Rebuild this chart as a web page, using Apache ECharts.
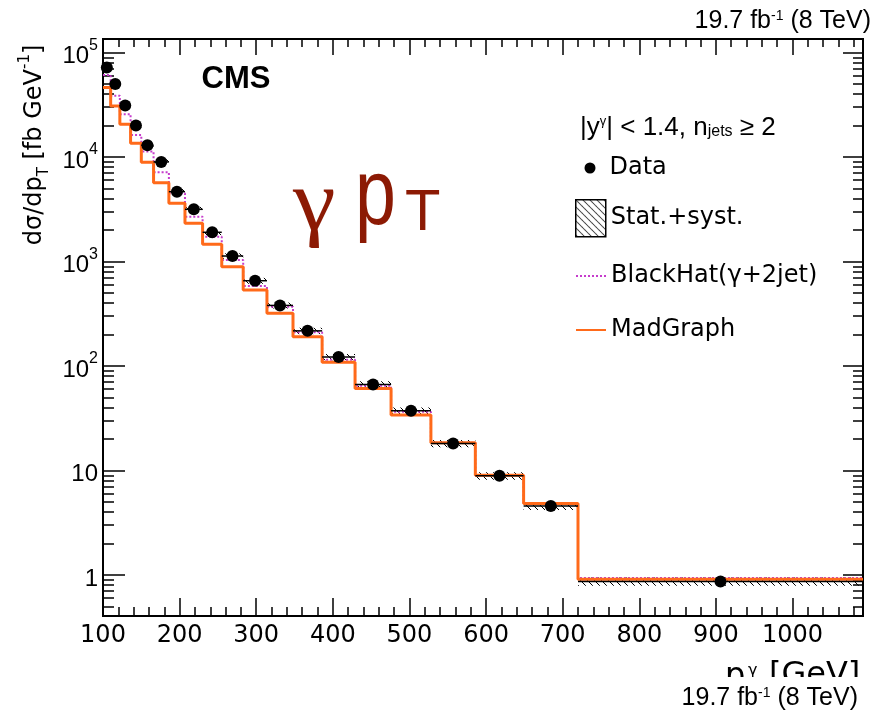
<!DOCTYPE html>
<html><head><meta charset="utf-8">
<script src="https://cdn.jsdelivr.net/npm/echarts@6/dist/echarts.min.js"></script>
<style>html,body{margin:0;padding:0;background:#fff}#c{width:873px;height:715px}</style>
</head><body><div id="c"></div>
<script>
// ---- data ----
const binEdges = [100,110,122,136,150,166,186,207,230,255,283,314,348,386,429,476,528,586,649,720,1092];
const dataValues = [71800,50100,31100,20000,12980,8980,4660,3160,1905,1129,655,380,217,122,66.6,37.2,18.1,8.88,4.58,0.865];
const statSystRel = [0.06,0.06,0.06,0.06,0.06,0.06,0.06,0.06,0.06,0.06,0.065,0.065,0.07,0.07,0.07,0.075,0.08,0.08,0.085,0.09];
const blackHatValues = [61100,38700,25700,16300,11280,7140,4500,2690,1728,1033,582,369,210,114.6,64.6,36.4,18.4,9.0,4.86,0.935];
const madGraphValues = [46200,30800,20600,13560,8910,5690,3610,2320,1462,892,533,319,190.5,108.4,61,33.9,18.4,9.02,4.83,0.91];
const xMin = 100, xMax = 1092, xInterval = 100;
const yMin = 0.4046, yMax = 134900;
const seriesNames = ['Data','Stat.+syst.','BlackHat(γ+2jet)','MadGraph'];

// ---- helpers ----
function stepData(vals){
  const d = vals.map((v,i)=>[binEdges[i], v]);
  d.push([binEdges[binEdges.length-1], vals[vals.length-1]]);
  return d;
}
const centers = dataValues.map((v,i)=>[(binEdges[i]+binEdges[i+1])/2, v]);
const bandData = dataValues.map((v,i)=>[binEdges[i], binEdges[i+1], v*(1-statSystRel[i]), v*(1+statSystRel[i])]);
const xErrData = dataValues.map((v,i)=>[binEdges[i], binEdges[i+1], v]);

const hc = document.createElement('canvas'); hc.width = 7; hc.height = 7;
const g = hc.getContext('2d'); g.strokeStyle = '#000'; g.lineWidth = 1;
g.beginPath(); g.moveTo(-1,-1); g.lineTo(8,8); g.moveTo(-1,6); g.lineTo(1,8); g.moveTo(6,-1); g.lineTo(8,1); g.stroke();
const hatch = {image: hc, repeat: 'repeat'};

const ORANGE = '#ff6a1a', MAGENTA = '#c63ccc', RED = '#8c1a04';
const F_SANS = 'Liberation Sans', F_DV = 'DejaVu Sans';

const chart = echarts.init(document.getElementById('c'));
const legendBase = {orient:'vertical', itemWidth:30, padding:0, itemGap:0, selectedMode:false, left:575,
  textStyle:{fontSize:24, fontFamily:F_DV, color:'#000', lineHeight:28}};

chart.setOption({
  animation:false,
  backgroundColor:'#fff',
  grid:{left:103, right:10, top:39, bottom:99, show:true, borderColor:'#000', borderWidth:2, backgroundColor:'transparent'},
  xAxis:[{
    type:'value', min:xMin, max:xMax, interval:xInterval,
    axisLine:{show:true, lineStyle:{color:'#000', width:2}},
    axisTick:{show:true, inside:true, length:18, lineStyle:{color:'#000', width:1.5}},
    minorTick:{show:true, splitNumber:5, length:9, lineStyle:{color:'#000', width:1.5}},
    splitLine:{show:false},
    axisLabel:{margin:8, fontSize:24, fontFamily:F_DV, color:'#000',
      formatter:v => (Math.abs(v % 100) < 1e-9 ? String(v) : '')}
  },{
    type:'value', position:'top', min:xMin, max:xMax, interval:xInterval,
    axisLine:{show:false},
    axisTick:{show:true, inside:true, length:16, lineStyle:{color:'#000', width:1.5}},
    minorTick:{show:true, splitNumber:5, length:8, lineStyle:{color:'#000', width:1.5}},
    splitLine:{show:false}, axisLabel:{show:false}
  }],
  yAxis:[{
    type:'log', logBase:10, min:yMin, max:yMax,
    axisLine:{show:true, lineStyle:{color:'#000', width:2}},
    axisTick:{show:true, inside:true, length:22, lineStyle:{color:'#000', width:1.5}},
    minorTick:{show:true, splitNumber:9, length:11, lineStyle:{color:'#000', width:1.5}},
    splitLine:{show:false}, minorSplitLine:{show:false},
    axisLabel:{margin:5, color:'#000',
      formatter:v => {
        const l = Math.log10(v), e = Math.round(l);
        if (Math.abs(l-e) > 1e-6) return '';
        if (e === 0) return '{b|1}';
        if (e === 1) return '{b|10}';
        return '{b|10}{s|' + e + '}';
      },
      rich:{b:{fontSize:24, fontFamily:F_SANS, lineHeight:30, padding:[8,0,0,0]},
            s:{fontSize:16, fontFamily:F_SANS, lineHeight:16, verticalAlign:'top', padding:[0,0,0,0]}}
    }
  },{
    type:'log', logBase:10, min:yMin, max:yMax, position:'right',
    axisLine:{show:false},
    axisTick:{show:true, inside:true, length:20, lineStyle:{color:'#000', width:1.5}},
    minorTick:{show:true, splitNumber:9, length:10, lineStyle:{color:'#000', width:1.5}},
    splitLine:{show:false}, axisLabel:{show:false}
  }],
  legend:[
    Object.assign({}, legendBase, {top:154, left:584.5, itemWidth:11, itemHeight:11,
      textStyle:{fontSize:24, fontFamily:F_DV, color:'#000', lineHeight:28, padding:[0,0,0,9]},
      data:[{name:seriesNames[0], icon:'circle', itemStyle:{color:'#000', opacity:1}}]}),
    Object.assign({}, legendBase, {top:199, itemHeight:37, data:[{name:seriesNames[1], icon:'rect',
        itemStyle:{color:hatch, borderColor:'#000', borderWidth:1.5}}]}),
    Object.assign({}, legendBase, {top:262, itemHeight:14, data:[{name:seriesNames[2], itemStyle:{opacity:0}}]}),
    Object.assign({}, legendBase, {top:316, itemHeight:14, data:[{name:seriesNames[3], itemStyle:{opacity:0}}]})
  ],
  series:[
    {name:seriesNames[1], type:'custom', z:2, data:bandData, encode:{x:[0,1], y:[2,3]},
      itemStyle:{color:hatch, borderColor:'#000', borderWidth:1.5},
      renderItem:(params, api) => {
        const p1 = api.coord([api.value(0), api.value(3)]);
        const p2 = api.coord([api.value(1), api.value(2)]);
        return {type:'rect', shape:{x:p1[0], y:p1[1], width:p2[0]-p1[0], height:p2[1]-p1[1]},
          style:{fill:hatch, stroke:null}};
      }},
    {name:seriesNames[2], type:'line', step:'end', z:3, data:stepData(blackHatValues), symbol:'none', showSymbol:false,
      lineStyle:{color:MAGENTA, width:2, type:[2,2]}, itemStyle:{color:MAGENTA}},
    {name:seriesNames[3], type:'line', step:'end', z:4, data:stepData(madGraphValues), symbol:'none', showSymbol:false,
      lineStyle:{color:ORANGE, width:3}, itemStyle:{color:ORANGE}},
    {name:'xerr', type:'custom', z:5, data:xErrData, encode:{x:[0,1], y:2},
      renderItem:(params, api) => {
        const a = api.coord([api.value(0), api.value(2)]);
        const b = api.coord([api.value(1), api.value(2)]);
        return {type:'line', shape:{x1:a[0], y1:a[1], x2:b[0], y2:b[1]}, style:{stroke:'#000', lineWidth:1.5}};
      }},
    {name:seriesNames[0], type:'scatter', z:6, data:centers, symbol:'circle', symbolSize:12, itemStyle:{color:'#000', opacity:1}}
  ],
  graphic:[
    {type:'text', x:201.6, y:63.8, z:50, style:{text:'CMS', fontSize:31, fontWeight:'bold', fontFamily:F_SANS, fill:'#000', verticalAlign:'top', lineHeight:31}},
    {type:'text', x:293, y:163, scaleX:1.12, z:50, style:{text:'γ', fontSize:86, fontFamily:'Liberation Serif', fill:RED, verticalAlign:'top', lineHeight:86}},
    {type:'text', x:355, y:153, scaleX:0.8, z:50, style:{text:'p', fontSize:92, fontFamily:F_SANS, fill:RED, verticalAlign:'top', lineHeight:92}},
    {type:'text', x:405, y:185, z:50, style:{text:'T', fontSize:58, fontFamily:F_SANS, fill:RED, verticalAlign:'top', lineHeight:58}},
    {type:'text', x:580, y:115, z:50, style:{text:'{a||y}{p|γ}{a|| < 1.4, n}{b|jets}{a| ≥ 2}', verticalAlign:'top',
      rich:{a:{fontSize:26, fontFamily:F_SANS, fill:'#000', lineHeight:25, verticalAlign:'top'},
            p:{fontSize:13, fontFamily:F_SANS, fill:'#000', lineHeight:13, verticalAlign:'top'},
            b:{fontSize:16, fontFamily:F_SANS, fill:'#000', lineHeight:16, verticalAlign:'bottom', padding:[14,0,0,0]}}}},
    {type:'text', x:35, y:145, rotation:Math.PI/2, z:50, style:{text:'{a|dσ/dp}{b|T}{a| [fb GeV}{p|-1}{a|]}', align:'center', verticalAlign:'middle',
      rich:{a:{fontSize:24, fontFamily:F_DV, fill:'#000', lineHeight:34},
            b:{fontSize:15, fontFamily:F_DV, fill:'#000', lineHeight:15, verticalAlign:'bottom'},
            p:{fontSize:15, fontFamily:F_DV, fill:'#000', lineHeight:15, verticalAlign:'top'}}}},
    {type:'text', x:725, y:661, z:50, style:{text:'p', fontSize:32, fontFamily:F_DV, fill:'#000', verticalAlign:'top', lineHeight:32}},
    {type:'text', x:748, y:663, z:50, style:{text:'γ', fontSize:16, fontFamily:F_DV, fill:'#000', verticalAlign:'top', lineHeight:16}},
    {type:'text', x:748, y:684, z:50, style:{text:'T', fontSize:18, fontFamily:F_DV, fill:'#000', verticalAlign:'top', lineHeight:18}},
    {type:'text', x:769, y:660, z:50, style:{text:'[GeV]', fontSize:32, fontFamily:F_DV, fill:'#000', verticalAlign:'top', lineHeight:32}},
    {type:'rect', z:60, shape:{x:600, y:677, width:273, height:38}, style:{fill:'#fff'}},
    {type:'text', x:871, y:9, z:70, style:{text:'{a|19.7 fb}{p|-1}{a| (8 TeV)}', align:'right', verticalAlign:'top',
      rich:{a:{fontSize:25, fontFamily:F_SANS, fill:'#000', lineHeight:25}, p:{fontSize:14, fontFamily:F_SANS, fill:'#000', lineHeight:14, verticalAlign:'top'}}}},
    {type:'text', x:858, y:686, z:70, style:{text:'{a|19.7 fb}{p|-1}{a| (8 TeV)}', align:'right', verticalAlign:'top',
      rich:{a:{fontSize:25, fontFamily:F_SANS, fill:'#000', lineHeight:25}, p:{fontSize:14, fontFamily:F_SANS, fill:'#000', lineHeight:14, verticalAlign:'top'}}}}
  ]
});
</script></body></html>
